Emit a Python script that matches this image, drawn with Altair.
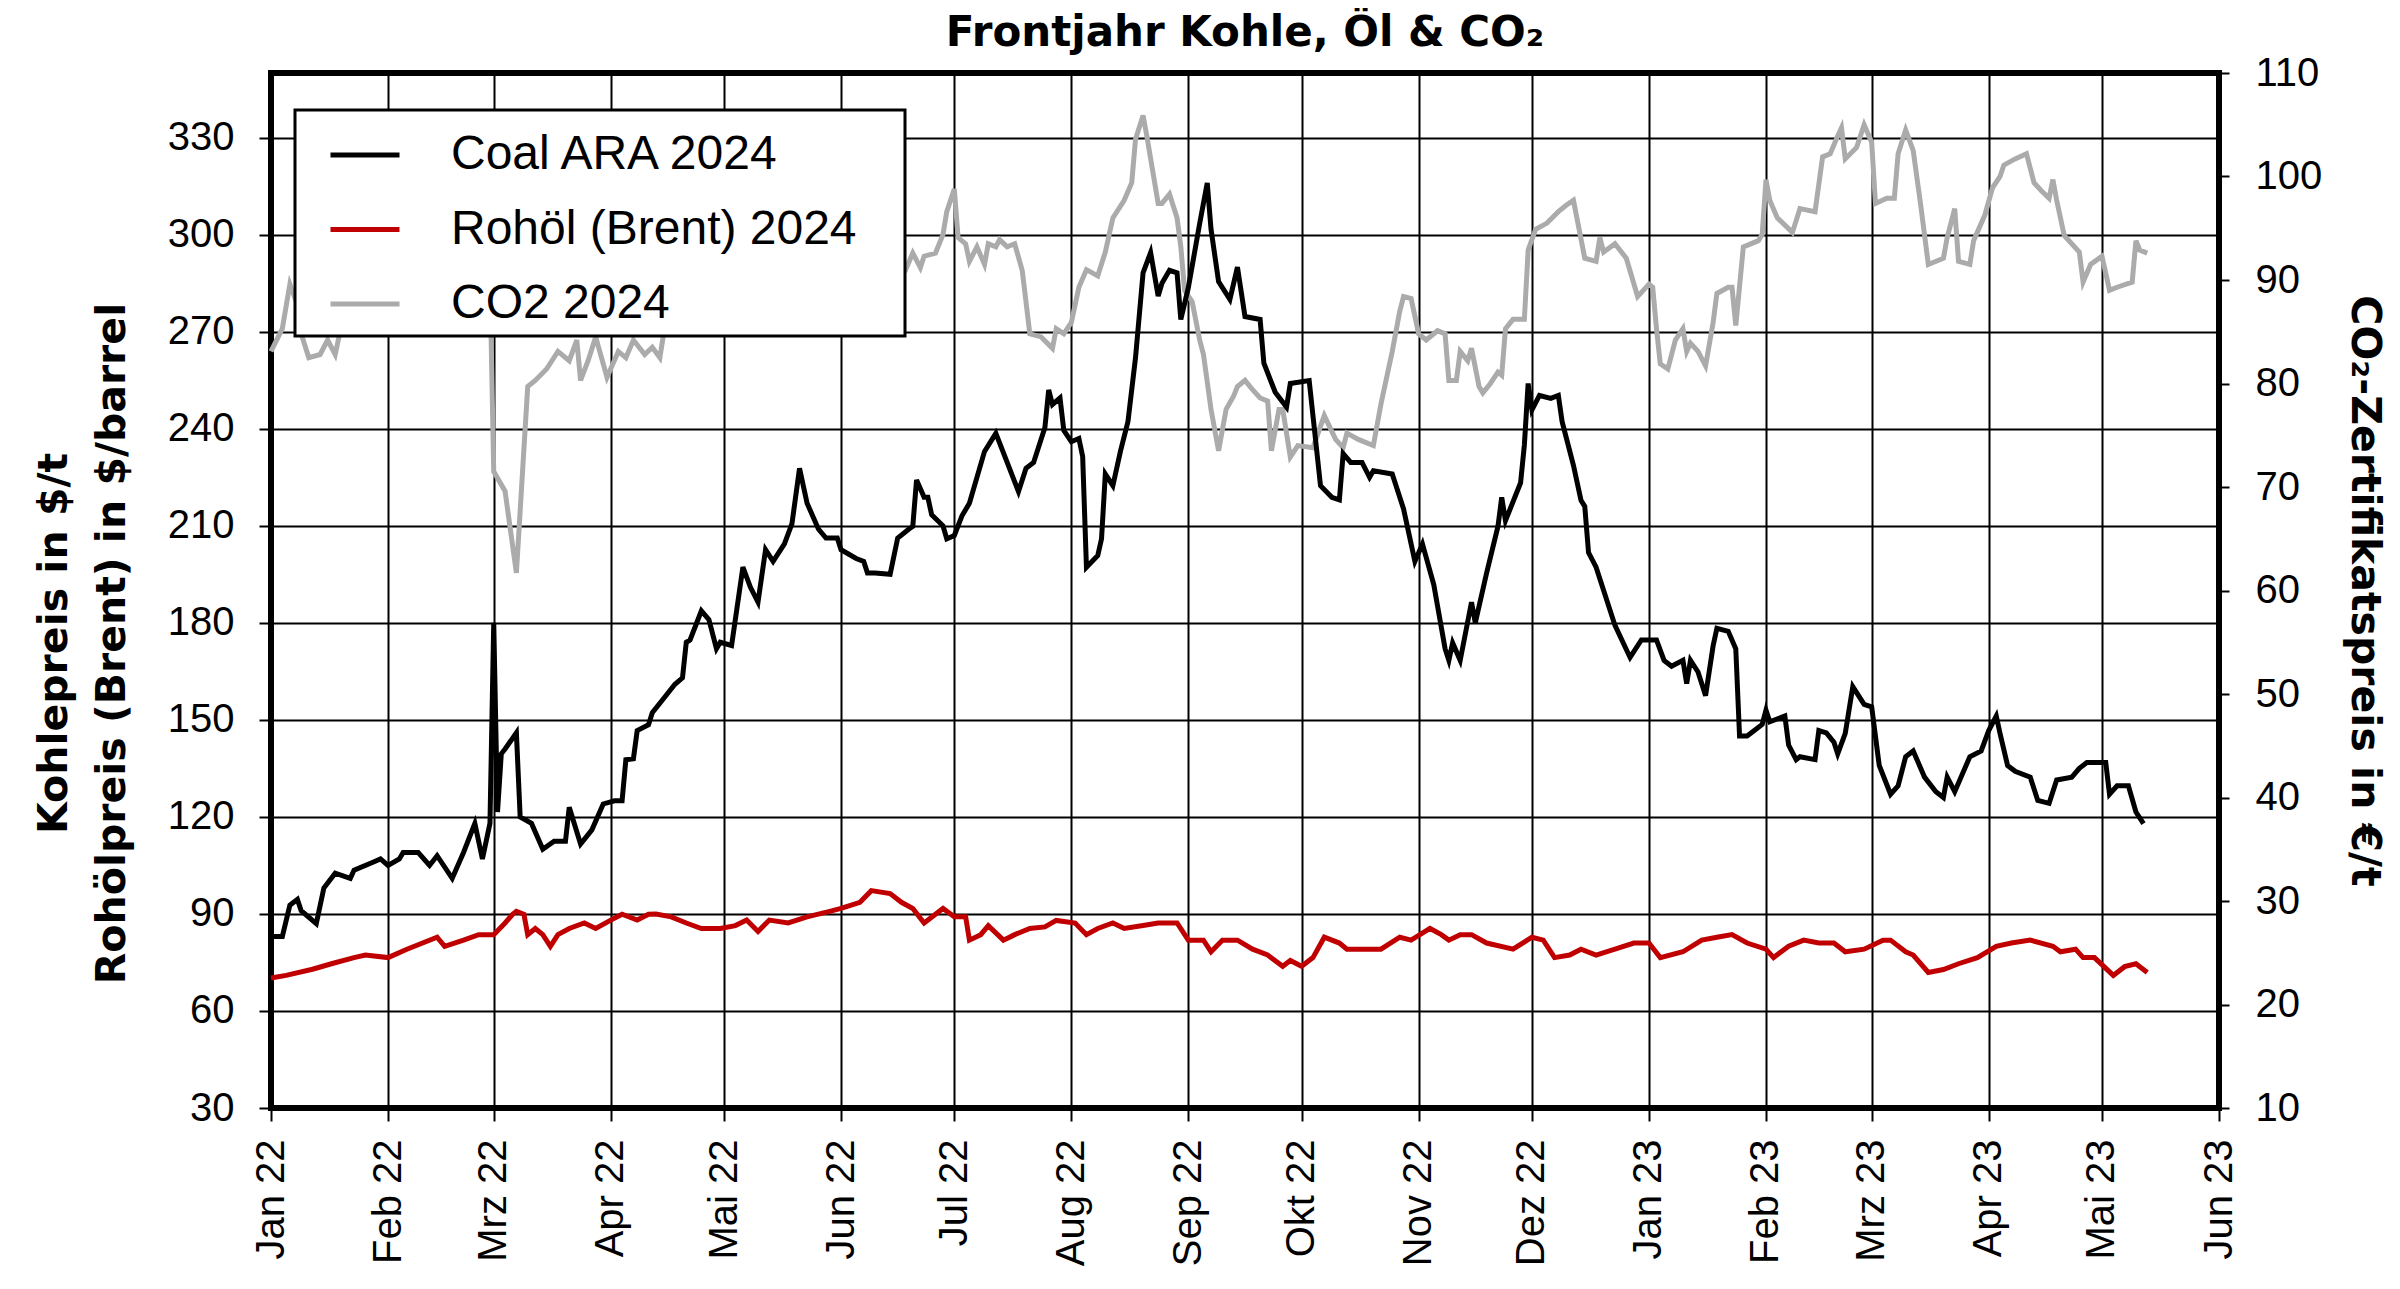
import json
import altair as alt
import pandas as pd

FONT = "Liberation Sans, Arial, sans-serif"
BOLD_FONT = "DejaVu Sans, Verdana, sans-serif"

# ---- data (day offsets from 2022-01-01) ----
coal_days = [0, 3, 5, 7, 8, 12, 14, 17, 21, 22, 27, 29, 31, 34, 35, 39, 42, 44, 48, 51, 54, 56, 58,
             59, 60, 61, 62, 65, 66, 69, 72, 75, 78, 79, 82, 85, 88, 91, 93, 94, 96, 97, 100,
             101, 104, 107, 109, 110, 111, 114, 116, 118, 119, 122, 125, 127, 129, 131, 133, 136,
             138, 140, 142, 145, 147, 150, 151, 155, 157, 158, 160, 164, 166, 169, 170, 171, 173,
             174, 175, 178, 179, 181, 183, 185, 189, 192, 195, 198, 200, 202, 205, 206, 207, 209,
             210, 212, 214, 215, 216, 219, 220, 221, 223, 225, 227, 229, 231, 233, 235, 236, 238,
             240, 241, 243, 246, 248, 249, 251, 254, 256, 258, 262, 263, 266, 269, 270, 275, 278,
             281, 283, 284, 286, 289, 291, 292, 297, 300, 303, 305, 308, 311, 312, 313, 315, 318,
             319, 322, 325, 326, 327, 331, 332, 333, 334, 336, 339, 341, 342, 345, 347, 348, 349,
             351, 356, 360, 363, 367, 369, 371, 374, 375, 376, 378, 380, 382, 383, 386, 388, 389,
             391, 393, 395, 396, 397, 401, 402, 404, 405, 409, 410, 412, 414, 415, 417, 419, 422,
             424, 426, 429, 431, 433, 435, 438, 441, 443, 444, 446, 450, 453, 455, 457, 458, 460,
             462, 466, 468, 471, 473, 477, 479, 481, 486, 487, 489, 492, 494, 496]
coal_vals = [83, 83, 92.7, 94.5, 91, 87, 98, 102.6, 101, 103.5, 106, 107, 105, 107, 109, 109, 105,
             108, 101, 109, 118, 107, 118,
             180, 121.5, 139.5, 141, 146, 120, 118, 110, 112.5, 112.5, 123, 111.6, 116, 124, 125,
             125, 137.7, 138, 146.7, 148.5,
             152.2, 156.6, 161, 163, 174, 174.7, 183.7, 181, 172, 174, 173, 197.2, 191, 186.4,
             202.6, 199, 204.4,
             210.7, 227.8, 217, 209, 206.2, 206.2, 202.6, 199.9, 199, 195.4, 195.4, 195, 206.2,
             209, 209.8, 224.2, 218.8,
             218.8, 213.4, 210, 206, 207, 213, 217, 233, 238.6, 229.6, 220.6, 227.8, 229.6,
             240.4, 252, 247.5, 249.5,
             239.5, 236, 237, 231.4, 197.2, 200.8, 206, 226, 222.4, 233, 242.2, 262, 288.2,
             294.5, 281, 285, 289,
             288.2, 273.8, 283.7, 303.5, 316, 301.7, 285.5, 280, 290, 274.7, 273.8, 260.3, 251.3,
             246.7, 254, 254.9, 222.4,
             218.8, 218, 232.3, 229.6, 229.6, 225, 227, 226, 215.2, 199, 204.4, 191.8, 172,
             168.4, 173.8, 168.4, 186.4,
             180, 195.4, 209.8, 218.8, 211.6, 223.3, 235, 254, 245.8, 250.3, 249.4, 250.3, 242.2,
             228.7, 217.9, 216, 201.7,
             197.2, 179.2, 169.3, 174.7, 174.7, 168.4, 166.6, 168.4, 161.2, 168.4, 164.8, 157.5,
             172.9, 178.3, 177.4, 172, 145,
             145, 146.8, 148.6, 153, 149.4, 151.2, 142.2, 137.7, 138.6, 137.7, 146.7, 146, 143.1,
             139.5, 145.8, 160.3, 154.8,
             154, 135.9, 127, 129.6, 138.6, 140.4, 132.3, 127.8, 126, 132.3, 127.8, 138.6, 140.4,
             146.7, 151.2, 145.8, 135.9,
             134.1, 132.3, 125.1, 124.2, 131.4, 132.3, 135, 136.8, 136.8, 127, 129.6, 129.6,
             121.5, 117.9]

oil_days = [0, 4, 11, 16, 22, 25, 31, 36, 44, 46, 51, 55, 59, 62, 64, 65, 67, 68, 70, 72, 74, 76,
            79, 83, 86, 90, 93, 97, 100, 102, 106, 110, 114, 119, 123, 126, 129, 132, 137, 142,
            148, 151, 156, 159, 164, 167, 170, 173, 178, 181, 184, 185, 188, 190, 194, 197, 201,
            205, 208, 213, 216, 219, 223, 226, 231, 235, 240, 243, 247, 249, 252, 256, 260, 264,
            268, 270, 273, 276, 279, 283, 285, 290, 294, 299, 302, 307, 310, 312, 315, 318, 322,
            329, 334, 337, 340, 344, 347, 351, 356, 361, 365, 368, 374, 379, 383, 387, 391, 396,
            398, 402, 406, 410, 414, 417, 422, 427, 429, 433, 435, 439, 443, 447, 452, 457, 461,
            466, 472, 474, 478, 480, 483, 488, 491, 494, 497]
oil_vals = [70.2, 71, 72.9, 74.6, 76.5, 77.3, 76.5, 79.1, 82.8, 80, 81.9, 83.6, 83.6, 87.2, 89.9,
            90.8, 89.9, 83.6, 85.5, 83.6, 80, 83.6,
            85.5, 87.2, 85.5, 88.1, 89.9, 88.1, 89.9, 90, 89.1, 87.2, 85.5, 85.5, 86.4, 88.1,
            84.6, 88.1, 87.2, 89.1,
            90.8, 91.7, 93.6, 97.2, 96.3, 93.6, 91.7, 87.2, 91.7, 89.1, 89.1, 81.9, 83.6, 86.4,
            81.9, 83.6, 85.5,
            86, 88, 87.2, 83.6, 85.5, 87.2, 85.5, 86.4, 87.2, 87.2, 81.9, 81.9, 78.3, 81.9, 81.9,
            79.1, 77.3,
            73.8, 75.6, 73.8, 76.5, 82.8, 81, 79.1, 79.1, 79.1, 82.8, 81.9, 85.5, 83.6, 81.9,
            83.6, 83.6, 81,
            79.1, 82.8, 81.9, 76.5, 77.3, 79.1, 77.3, 79.1, 81, 81, 76.5, 78.3, 81.9, 82.8, 83.6,
            81, 79.1,
            76.5, 80, 81.9, 81, 81, 78.3, 79.1, 81.9, 81.9, 78.3, 77.3, 71.9, 72.8, 74.6, 76.5,
            80, 81,
            81.9, 80, 78.3, 79.1, 76.5, 76.5, 71, 73.7, 74.6, 71.9]

co2_days = [0, 3, 5, 7, 8, 10, 13, 15, 17, 18, 21, 25, 30, 35, 40, 45, 50, 54, 58,
            59, 62, 65, 68, 70, 73, 76, 79, 81, 82, 84, 86, 89, 92, 94, 96, 99, 101, 103, 104,
            108, 112, 118, 124, 130, 136, 142, 148, 154, 160, 165,
            168, 170, 172, 173, 176, 178, 179, 181, 182, 184, 185, 187, 189, 190, 192, 193, 195,
            197, 199, 201, 204, 207, 208, 210, 212, 214, 216, 219, 221, 223, 226, 228, 229, 231,
            232, 235, 236, 238, 240, 241, 242, 244, 246, 247, 249, 251, 253, 255, 256, 258, 260,
            262, 264, 265, 267, 268, 270, 272, 276, 279, 282, 284, 285, 288, 292, 294, 297, 299,
            300, 302, 304, 306, 309, 311, 312, 314, 315, 317, 318, 320, 321, 323, 325, 326, 327,
            329, 332, 333, 335, 338, 341, 343, 345, 348, 351, 352, 353, 356, 359, 362, 365, 366,
            367, 368, 370, 372, 374, 375, 376, 378, 380, 382, 383, 386, 387, 388, 390, 394, 395,
            396, 397, 399, 403, 405, 409, 411, 413, 415, 416, 417, 420, 422, 424, 425, 428, 430,
            431, 433, 435, 437, 439, 443, 444, 446, 447, 450, 451, 454, 456, 458, 459, 462, 465,
            467, 469, 471, 472, 473, 475, 479, 480, 482, 485, 487, 489, 493, 494, 495, 497]
co2_vals = [83.1, 85.3, 89.6, 87.6, 84.8, 82.5, 82.8, 84.2, 82.8, 84.5, 87, 89, 88, 92, 96, 95, 93,
            90, 90,
            71.5, 69.6, 61.7, 79.7, 80.3, 81.4, 83.1, 82.2, 84.2, 80.3, 82.2, 84.5, 80.6, 83.1,
            82.5, 84.2, 82.8, 83.5, 82.5, 84.8,
            84.8, 87, 88, 87, 89, 88, 90, 89, 90, 89, 90,
            90.9, 92.6, 91.2, 92.3, 92.6, 94.4, 96.6, 98.8, 94.1, 93.5, 91.8, 93.2, 91.5, 93.5,
            93.2, 93.9, 93.2,
            93.5, 90.9, 84.8, 84.5, 83.4, 85.3, 84.8, 85.9, 89.3, 91, 90.4, 92.7, 96, 97.7, 99.4,
            103.6, 105.9,
            103.9, 97.4, 97.4, 98.3, 96, 93.2, 89, 87.9, 84.2, 82.8, 77.5, 73.5, 77.5, 78.8,
            79.7, 80.3, 79.4,
            78.6, 78.3, 73.5, 77.5, 77.5, 72.9, 74, 73.8, 76.9, 74.6, 73.8, 75.2, 74.6, 74, 78,
            83.1, 87,
            88.4, 88.2, 84.8, 84.2, 85.1, 84.8, 80.3, 80.3, 83.1, 82.2, 83.4, 79.7, 79.1, 80,
            81.1, 80.8, 85.3,
            86.2, 86.2, 92.9, 94.9, 95.5, 96.6, 97.2, 97.7, 92.1, 91.8, 94.1, 92.7, 93.5, 92.1,
            88.4, 89.6, 89.3,
            85.3, 81.9, 81.4, 84.2, 85.3, 83.1, 83.9, 83.1, 81.7, 85.9, 88.7, 89.3, 89.3, 85.6,
            93.2, 93.8, 94.4,
            99.7, 97.7, 96, 94.6, 96.9, 96.6, 101.9, 102.2, 103.9, 104.7, 101.7, 102.8, 105,
            103.3, 97.4, 97.9, 97.9,
            102.2, 104.5, 102.5, 97.2, 91.5, 92.1, 94.1, 96.9, 91.8, 91.5, 93.8, 96.3, 98.9, 100,
            101.1, 101.7, 102.2,
            99.4, 98.6, 97.9, 99.7, 97.7, 94.3, 92.7, 89.8, 91.5, 92.3, 89, 89.3, 89.8, 93.8,
            92.9, 92.6]

series_names = ["Coal ARA 2024", "Rohöl (Brent) 2024", "CO2 2024"]
series_colors = ["#000000", "#c00000", "#ababab"]
month_labels = ["Jan", "Feb", "Mrz", "Apr", "Mai", "Jun", "Jul", "Aug", "Sep", "Okt", "Nov", "Dez"]
left_ticks = [30, 60, 90, 120, 150, 180, 210, 240, 270, 300, 330]
right_ticks = [10, 20, 30, 40, 50, 60, 70, 80, 90, 100, 110]

# ---- build tables ----
start = pd.Timestamp("2022-01-01")


def frame(days, vals, name):
    return pd.DataFrame({
        "date": [start + pd.Timedelta(days=d) for d in days],
        "value": vals,
        "series": name,
    })


left_df = pd.concat([frame(coal_days, coal_vals, series_names[0]),
                     frame(oil_days, oil_vals, series_names[1])], ignore_index=True)
right_df = frame(co2_days, co2_vals, series_names[2])

month_vals = [alt.DateTime(year=2022 + m // 12, month=m % 12 + 1, date=1) for m in range(18)]
label_expr = json.dumps(month_labels) + "[month(datum.value)] + ' ' + timeFormat(datum.value, '%y')"

x_enc = alt.X(
    "date:T",
    scale=alt.Scale(domain=[month_vals[0], month_vals[-1]]),
    axis=alt.Axis(values=month_vals, labelExpr=label_expr, title=None, labelAngle=-90,
                  tickSize=13, labelPadding=18, grid=True),
)

# trailing no-break spaces (kept by a zero-width char) widen the legend box on the right
color_enc = alt.Color(
    "series:N",
    scale=alt.Scale(domain=series_names, range=series_colors),
    legend=alt.Legend(title=None, labelExpr="datum.label + '\u00a0\u00a0\u00a0\u200b'"),
)

right_layer = alt.Chart(right_df).mark_line(strokeWidth=5).encode(
    x=x_enc,
    y=alt.Y("value:Q",
            scale=alt.Scale(domain=[10, 110], nice=False, zero=False),
            axis=alt.Axis(orient="right", values=right_ticks, grid=False, tickSize=10,
                          labelPadding=26, title="CO₂-Zertifikatspreis in €/t",
                          titleAngle=90, titlePadding=21)),
    color=color_enc,
)

left_layer = alt.Chart(left_df).mark_line(strokeWidth=5).encode(
    x=x_enc,
    y=alt.Y("value:Q",
            scale=alt.Scale(domain=[30, 350], nice=False, zero=False),
            axis=alt.Axis(orient="left", values=left_ticks, grid=True, tickSize=12,
                          labelPadding=25,
                          title=["Kohlepreis in $/t", "Rohölpreis (Brent) in $/barrel"],
                          titleX=-196, titleY=570, titleAngle=-90, titleAlign="center",
                          titleBaseline="bottom", titleLineHeight=58)),
    color=color_enc,
)

chart = alt.layer(right_layer, left_layer).resolve_scale(y="independent").properties(
    width=1948,
    height=1035,
    autosize=alt.AutoSizeParams(type="none"),
    padding={"left": 263, "top": 65, "right": 170, "bottom": 170},
    title=alt.Title("Frontjahr Kohle, Öl & CO₂", font=BOLD_FONT, fontSize=42, fontWeight="bold",
                    color="black", anchor="middle", frame="group", baseline="alphabetic",
                    offset=9, dy=44),
).configure_view(
    stroke="black", strokeWidth=6
).configure_axis(
    domain=False,
    grid=True,
    gridColor="black",
    gridWidth=2,
    gridOpacity=1,
    tickColor="black",
    tickWidth=2,
    labelFont=FONT,
    labelFontSize=40,
    labelColor="black",
    titleFont=BOLD_FONT,
    titleFontSize=41,
    titleFontWeight="bold",
    titleColor="black",
).configure_legend(
    orient="none",
    legendX=24,
    legendY=37,
    fillColor="white",
    strokeColor="black",
    strokeWidth=3,
    padding=8,
    rowPadding=13.5,
    symbolType="stroke",
    symbolSize=4761,
    symbolStrokeWidth=5,
    symbolOffset=25,
    labelOffset=49,
    labelFont=FONT,
    labelFontSize=48,
    labelColor="black",
    labelLimit=900,
)

chart.save("out.html", embed_options={"renderer": "svg", "actions": False})
